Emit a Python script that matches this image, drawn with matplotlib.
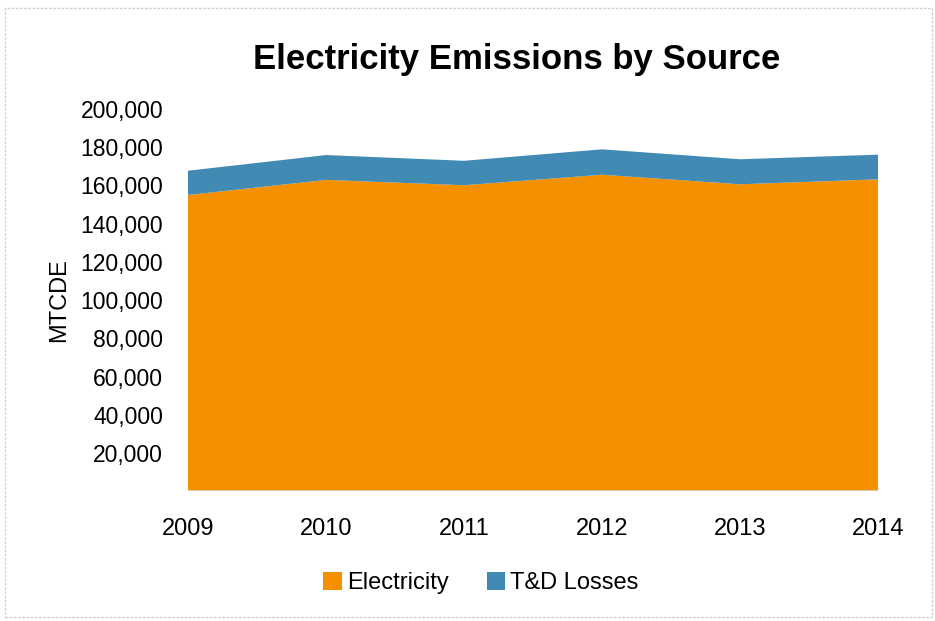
import numpy as np
import matplotlib.pyplot as plt
from matplotlib.patches import Rectangle

years = [2009, 2010, 2011, 2012, 2013, 2014]
electricity = [155000, 162900, 160100, 165600, 160600, 163200]
td_losses = [12700, 13000, 12800, 13300, 13100, 12900]
yticks = np.arange(20000, 200001, 20000)

orange = "#F59100"
blue = "#418AB3"

plt.rcParams['font.family'] = ['Liberation Sans', 'DejaVu Sans']

fig = plt.figure(figsize=(9.35, 6.21), dpi=100)
ax = fig.add_axes([188/935, 1-491.2/621, (878-188)/935, (491.2-109)/621])

ax.stackplot(years, electricity, td_losses, colors=[orange, blue],
             labels=["Electricity", "T&D Losses"], linewidth=0)
ax.axhline(0, color="#d9d9d9", lw=1.2)

ax.set_xlim(2009, 2014)
ax.set_ylim(0, 200000)
ax.set_xticks(years)
ax.set_xticklabels([str(y) for y in years], fontsize=17)
ax.set_yticks(yticks)
ax.set_yticklabels(["{:,}".format(v) for v in yticks], fontsize=16.5)
ax.tick_params(length=0)
ax.tick_params(axis='x', pad=19)
ax.tick_params(axis='y', pad=18)
for s in ax.spines.values():
    s.set_visible(False)

ax.set_ylabel("MTCDE", fontsize=17, labelpad=7)
fig.text(517/935, 1-59/621, "Electricity Emissions by Source", fontsize=25,
         fontweight='bold', ha='center', va='center')

ax.legend(loc='center', bbox_to_anchor=(481/935, 1-583/621), bbox_transform=fig.transFigure,
          ncol=2, frameon=False, fontsize=17, handlelength=0.8, handleheight=0.8,
          handletextpad=0.2, columnspacing=1.6)

fig.patches.append(Rectangle((5/935, 4/621), 927/935, 609/621, transform=fig.transFigure,
                             fill=False, edgecolor="#d0d0d0", lw=1, linestyle=(0, (2, 1))))

fig.savefig("out.png", dpi=100)
